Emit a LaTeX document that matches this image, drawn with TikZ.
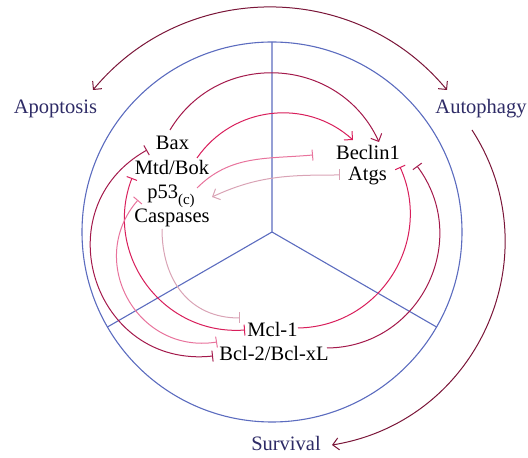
\documentclass[tikz,border=0pt]{standalone}
\usepackage{fontspec}
\setmainfont{Liberation Serif}
\usetikzlibrary{arrows.meta,calc}
\definecolor{cblue}{HTML}{5C6CBF}
\definecolor{cmaroon}{HTML}{7A1538}
\definecolor{cdark}{HTML}{A3194B}
\definecolor{ccrimson}{HTML}{D81E5B}
\definecolor{cpink}{HTML}{E8739C}
\definecolor{cmauve}{HTML}{D9A3B5}
\definecolor{clabel}{HTML}{2E2B66}
\begin{document}
\begin{tikzpicture}[x=1pt,y=1pt,
  txt/.style={font=\fontsize{20.5}{24}\selectfont, inner sep=0pt, anchor=base, text=black},
  lbl/.style={font=\fontsize{20.5}{24}\selectfont, inner sep=0pt, anchor=base, text=clabel},
  conn/.style={line width=1pt},
  act/.style={conn,-{Straight Barb[length=6pt,width=12pt,line width=1pt]}},
  inh/.style={conn,-{Bar[width=11pt,line width=1pt]}},
  inhboth/.style={conn,{Bar[width=11pt,line width=1pt]}-{Bar[width=11pt,line width=1pt]}},
  both/.style={conn,{Straight Barb[length=6pt,width=12pt,line width=1pt]}-{Straight Barb[length=6pt,width=12pt,line width=1pt]}}]
\useasboundingbox (0,0) rectangle (528,458);

% wheel
\coordinate (C) at (272,226);
\coordinate (T) at ($(C)+(90:190)$);
\coordinate (L) at ($(C)+(210:190)$);
\coordinate (R) at ($(C)+(-30:190)$);
\draw[cblue,line width=1.1pt] (C) circle[radius=190];
\draw[cblue,line width=1.1pt] (C) -- (T) (C) -- (L) (C) -- (R);

% labels
\node[lbl] (apo) at (55.5,344) {Apoptosis};
\node[lbl] (aut) at (481,344) {Autophagy};
\node[lbl] (sur) at (286,7) {Survival};

% molecule texts
\node[txt] (bax) at (172.5,308) {Bax};
\node[txt] (mtd) at (172,283) {Mtd/Bok};
\node[txt] (p53) at (171,259) {p53\raisebox{-0.28em}{\fontsize{15}{15}\selectfont (c)}};
\node[txt] (cas) at (172,235) {Caspases};
\node[txt] (bec) at (368,298) {Beclin1};
\node[txt] (atg) at (367.5,277) {Atgs};
\node[txt] (mcl) at (272.5,121) {Mcl-1};
\node[txt] (bcl) at (274,97) {Bcl-2/Bcl-xL};

% connector end points
\coordinate (apoT) at (93,368);
\coordinate (autT) at (447,368);
\coordinate (autS) at (472,328);
\coordinate (surT) at (332,13);

\coordinate (baxA) at (170,328);
\coordinate (becA1) at (379,316);
\coordinate (mtdA) at (197,300);
\coordinate (becA2) at (353,318);
\coordinate (mclR) at (298,130);
\coordinate (becT1) at (400,291);
\coordinate (bclR) at (327,110);
\coordinate (becT2) at (417,292);

\coordinate (baxT) at (147,308);
\coordinate (bclT2) at (213,102);
\coordinate (mtdT) at (132,280);
\coordinate (mclT1) at (245,128);
\coordinate (p53T) at (138,258);
\coordinate (bclT1) at (217,116);
\coordinate (casB) at (162,229);
\coordinate (mclT2) at (240,140);

\coordinate (p53R) at (197,270);
\coordinate (becT3) at (313,303);
\coordinate (atgT) at (340,283);
\coordinate (p53A) at (212,261);

% outer arrows
\draw[both,cmaroon] (apoT) to[out=50.3,in=129.7,looseness=1.04] (autT);
\draw[act,cmaroon] (autS) to[out=-57.1,in=9.2,looseness=1.10] (surT);

% activations to Beclin1
\draw[act,cdark] (baxA) to[out=59.1,in=114.6,looseness=1.16] (becA1);
\draw[act,ccrimson] (mtdA) to[out=55.3,in=137.9,looseness=1.03] (becA2);

% inhibitions of Beclin1
\draw[inh,ccrimson] (mclR) to[out=1,in=-65.7,looseness=1.10] (becT1);
\draw[inh,cdark] (bclR) to[out=0.5,in=-53.2,looseness=1.17] (becT2);

% left mutual inhibitions
\draw[inhboth,cdark] (baxT) to[out=209.4,in=186.1,looseness=1.42] (bclT2);
\draw[inhboth,ccrimson] (mtdT) to[out=249.1,in=184.1,looseness=1.11] (mclT1);
\draw[inhboth,cpink] (p53T) to[out=229.2,in=189,looseness=1.27] (bclT1);
\draw[inh,cmauve] (casB) to[out=-90,in=180,looseness=1.1] (mclT2);

% p53 / Atgs
\draw[inh,cpink] (p53R) to[out=45,in=185] (becT3);
\draw[conn,cmauve,{Straight Barb[length=6pt,width=12pt,line width=1pt]}-{Bar[width=11pt,line width=1pt]}] (p53A) to[out=25,in=180] (atgT);
\end{tikzpicture}
\end{document}
